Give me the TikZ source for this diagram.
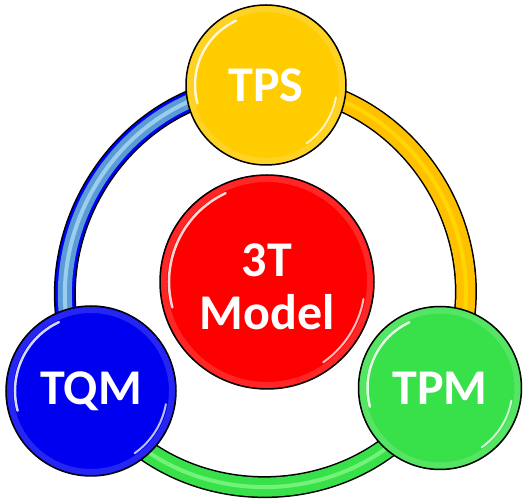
\documentclass[tikz,border=0pt]{standalone}
\usepackage{fontspec}
\setmainfont{Carlito}
\usetikzlibrary{backgrounds}

\definecolor{tpsyellow}{HTML}{FFCC00}
\definecolor{modelred}{HTML}{FF0000}
\definecolor{tqmblue}{HTML}{0000F0}
\definecolor{tpmgreen}{HTML}{38E04A}
\definecolor{ringblue}{HTML}{5B9BD5}
\definecolor{ringstreak}{HTML}{C4F0FF}
\definecolor{ringyellow}{HTML}{FFC000}
\definecolor{ringgreen}{HTML}{38E04A}

\tikzset{
  ball/.style 2 args={circle, draw=black, line width=1.5pt, fill=#1,
    minimum size=#2pt, inner sep=0pt, text=white, align=center,
    font=\bfseries\fontsize{50}{53}\selectfont,
    path picture={
      \draw[white, opacity=.15, line width=6pt]
        (path picture bounding box.center) circle[radius={#2/2-4}];
      \draw[white, opacity=.85, line width=2.5pt, line cap=round]
        ([shift={(115:{#2/2-9})}]path picture bounding box.center)
        arc[start angle=115, end angle=195, radius={#2/2-9}];
      \draw[white, opacity=.75, line width=2pt, line cap=round]
        ([shift={(-10:{#2/2-9})}]path picture bounding box.center)
        arc[start angle=-10, end angle=-55, radius={#2/2-9}];
    }},
  ring/.style n args={3}{draw=black, line width=22pt,
    postaction={draw=#1, line width=19pt},
    postaction={draw=#2, line width=14pt},
    postaction={draw=#3, line width=4pt, opacity=.6}},
}

\begin{document}
\begin{tikzpicture}[x=1pt, y=1pt]
  \useasboundingbox (0,0) rectangle (528,500);
  \node[ball={tpsyellow}{160}] (tps) at (266,415) {TPS};
  \node[ball={modelred}{214}] (model) at (267,218) {\rule{0pt}{42pt}3T\\Model};
  \node[ball={tqmblue}{170}] (tqm) at (91,109) {TQM};
  \node[ball={tpmgreen}{163}] (tpm) at (440,112) {TPM};
  \begin{scope}[on background layer]
    \draw[ring={blue}{ringblue}{ringstreak}]
      (tps.center) to[bend right=60, looseness=1.1] (tqm.center);
    \draw[ring={ringyellow}{ringyellow}{ringyellow!40!yellow}]
      (tps.center) to[bend left=60, looseness=1.1] (tpm.center);
    \draw[ring={ringgreen}{ringgreen}{green!40!white}]
      (tqm.center) to[bend right=60, looseness=1.1] (tpm.center);
  \end{scope}
\end{tikzpicture}
\end{document}
